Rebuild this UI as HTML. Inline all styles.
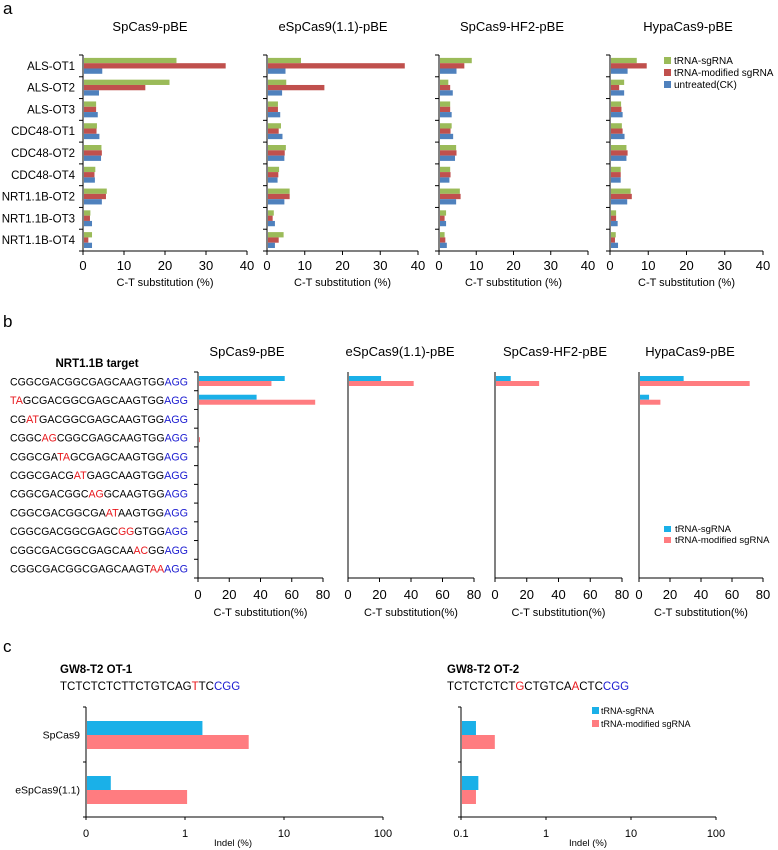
<!DOCTYPE html>
<html><head><meta charset="utf-8"><style>
html,body{margin:0;padding:0;background:#fff;}
svg{display:block;font-family:"Liberation Sans",Arial,sans-serif;}
</style></head><body>
<svg id="fig" width="778" height="850" viewBox="0 0 778 850">
<text x="3" y="14" font-size="17">a</text>
<text x="3" y="327" font-size="17">b</text>
<text x="3" y="652" font-size="17">c</text>
<g id="ga"></g>
<g id="gb"></g>
<g id="gc"></g>
</svg>
<script>
// ---------- Panel a data ----------
const aCategories = ["ALS-OT1","ALS-OT2","ALS-OT3","CDC48-OT1","CDC48-OT2","CDC48-OT4","NRT1.1B-OT2","NRT1.1B-OT3","NRT1.1B-OT4"];
const aTitles = ["SpCas9-pBE","eSpCas9(1.1)-pBE","SpCas9-HF2-pBE","HypaCas9-pBE"];
const aSeriesNames = ["tRNA-sgRNA","tRNA-modified sgRNA","untreated(CK)"];
const aTicks = [0,10,20,30,40];
const aGreen = [
 [22.8,21.1,3.2,3.4,4.5,3.0,5.8,1.8,2.2],
 [9.0,5.1,2.9,3.7,5.0,3.2,6.0,1.8,4.4],
 [8.8,2.5,3.0,3.4,4.6,3.0,5.6,1.9,1.5],
 [7.0,3.7,2.9,3.1,4.3,2.8,5.4,1.6,1.5]];
const aRed = [
 [34.8,15.2,3.2,3.3,4.6,2.8,5.6,1.7,1.3],
 [36.5,15.2,2.9,3.1,4.7,3.0,6.0,1.5,3.1],
 [6.8,3.0,3.0,3.1,4.7,3.1,5.8,1.5,1.7],
 [9.6,2.4,3.0,3.3,4.6,2.8,5.7,1.6,1.3]];
const aBlue = [
 [4.7,3.9,3.6,4.0,4.4,2.9,4.6,2.2,2.2],
 [4.9,4.0,3.5,4.1,4.6,2.8,4.6,2.1,2.1],
 [4.7,3.7,3.4,3.8,4.3,2.8,4.6,1.9,2.1],
 [4.6,3.7,3.3,3.8,4.3,2.8,4.5,2.0,2.1]];
// ---------- Panel b data ----------
const bTitles = ["SpCas9-pBE","eSpCas9(1.1)-pBE","SpCas9-HF2-pBE","HypaCas9-pBE"];
const bSeqs = [
 ["CGGCGACGGCGAGCAAGTGG","",""],
 ["","TA","GCGACGGCGAGCAAGTGG"],
 ["CG","AT","GACGGCGAGCAAGTGG"],
 ["CGGC","AG","CGGCGAGCAAGTGG"],
 ["CGGCGA","TA","GCGAGCAAGTGG"],
 ["CGGCGACG","AT","GAGCAAGTGG"],
 ["CGGCGACGGC","AG","GCAAGTGG"],
 ["CGGCGACGGCGA","AT","AAGTGG"],
 ["CGGCGACGGCGAGC","GG","GTGG"],
 ["CGGCGACGGCGAGCAA","AC","GG"],
 ["CGGCGACGGCGAGCAAGT","AA",""]];
const bTicks = [0,20,40,60,80];
const bBlue = [
 [55.5,37.5,0,0,0,0,0,0,0,0,0],
 [21,0,0,0,0,0,0,0,0,0,0],
 [9.9,0,0,0,0,0,0,0,0,0,0],
 [28.8,6.5,0,0,0,0,0,0,0,0,0]];
const bRed = [
 [47,75,0,1,0,0,0,0,0,0,0],
 [41.7,0,0,0,0,0,0,0,0,0,0],
 [27.8,0,0,0,0,0,0,0,0,0,0],
 [71.4,13.8,0,0,0,0,0,0,0,0,0]];
// ---------- Panel c data ----------
const cCategories = ["SpCas9","eSpCas9(1.1)"];
const cTickValues = [0.1,1,10,100];
const cTickLabels1 = ["0","1","10","100"];
const cTickLabels2 = ["0.1","1","10","100"];
const cBlue = [[1.5,0.178],[0.15,0.16]];
const cRed = [[4.4,1.05],[0.25,0.15]];

const NS="http://www.w3.org/2000/svg";
function mk(parent,tag,attrs,txt){const e=document.createElementNS(NS,tag);for(const k in attrs)e.setAttribute(k,attrs[k]);if(txt!==undefined)e.textContent=txt;parent.appendChild(e);return e;}

// ---------- Panel a ----------
const ga=document.getElementById('ga');
const aX0=[83,267,439,610], aX1=[247,418,588,763];
const aTop=55, aBot=251, aBand=(aBot-aTop)/aCategories.length;
const aTitleX=[150,333,512,688];
const aColors=["#9bbb59","#c0504d","#4f81bd"];
for(let p=0;p<4;p++){
  const sx=v=>aX0[p]+v/40*(aX1[p]-aX0[p]);
  let t=mk(ga,'text',{x:aTitleX[p],y:31,'font-size':13,'text-anchor':'middle'},aTitles[p]);
  
  
  let l=mk(ga,'line',{x1:aX0[p],y1:aTop,x2:aX0[p],y2:aBot,stroke:'#000','stroke-width':1});
  
  
  l=mk(ga,'line',{x1:aX0[p],y1:aBot,x2:aX1[p],y2:aBot,stroke:'#000','stroke-width':1});
  
  
  for(let i=0;i<=aCategories.length;i++){mk(ga,'line',{x1:aX0[p]-4,y1:aTop+i*aBand,x2:aX0[p],y2:aTop+i*aBand,stroke:'#000'});}
  aTicks.forEach(v=>{
    mk(ga,'line',{x1:sx(v),y1:aBot,x2:sx(v),y2:aBot+4,stroke:'#000'});
    let tl=mk(ga,'text',{x:sx(v),y:aBot+19,'font-size':13,'text-anchor':'middle'},String(v));
    
    
  });
  t=mk(ga,'text',{x:(aX0[p]+aX1[p])/2,y:286,'font-size':11,'text-anchor':'middle'},'C-T substitution (%)');
  
  
  const series=[aGreen[p],aRed[p],aBlue[p]];
  aCategories.forEach((c,i)=>{
    const y0=aTop+i*aBand+(aBand-16)/2;
    series.forEach((s,k)=>{
      const r=mk(ga,'rect',{x:aX0[p]+1,y:y0+k*5.3,width:Math.max(0,sx(s[i])-aX0[p]-1),height:5.3,fill:aColors[k]});
      
      
    });
  });
}
aCategories.forEach((c,i)=>{
  const t=mk(ga,'text',{x:75,y:aTop+(i+0.5)*aBand+4,'font-size':11.5,'text-anchor':'end'},c);
  
  
});
aSeriesNames.forEach((n,k)=>{
  mk(ga,'rect',{x:664,y:57+k*12,width:7,height:7,fill:aColors[k]});
  const t=mk(ga,'text',{x:674,y:64+k*12,'font-size':10},n);
  
  
});

// ---------- Panel b ----------
const gb=document.getElementById('gb');
const bX0=[198,348,495,639], bX1=[323,474,622,763];
const bTop=372,bBot=578,bBand=(bBot-bTop)/bSeqs.length;
const bTitleX=[247,400,555,690];
const bColors=["#1ab0e8","#ff7c80"];
let tt=mk(gb,'text',{x:97,y:367,'font-size':11.5,'font-weight':'bold','text-anchor':'middle'},'NRT1.1B target');


bSeqs.forEach((s,i)=>{
  const t=mk(gb,'text',{x:10,y:bTop+(i+0.5)*bBand+4,'font-size':11,textLength:178,lengthAdjust:'spacingAndGlyphs'});
  
  
  mk(t,'tspan',{},s[0]);mk(t,'tspan',{fill:'#e8171c'},s[1]);mk(t,'tspan',{},s[2]);mk(t,'tspan',{fill:'#1a1ad0'},'AGG');
});
for(let p=0;p<4;p++){
  const sx=v=>bX0[p]+v/80*(bX1[p]-bX0[p]);
  let t=mk(gb,'text',{x:bTitleX[p],y:356,'font-size':13,'text-anchor':'middle'},bTitles[p]);
  
  
  mk(gb,'line',{x1:bX0[p],y1:bTop,x2:bX0[p],y2:bBot,stroke:'#000'});
  mk(gb,'line',{x1:bX0[p],y1:bBot,x2:bX1[p],y2:bBot,stroke:'#000'});
  if(p===0){for(let i=0;i<=bSeqs.length;i++)mk(gb,'line',{x1:bX0[p]-4,y1:bTop+i*bBand,x2:bX0[p],y2:bTop+i*bBand,stroke:'#000'});}
  bTicks.forEach(v=>{
    mk(gb,'line',{x1:sx(v),y1:bBot,x2:sx(v),y2:bBot+4,stroke:'#000'});
    const tl=mk(gb,'text',{x:sx(v),y:bBot+21,'font-size':13,'text-anchor':'middle'},String(v));
    
    
  });
  t=mk(gb,'text',{x:(bX0[p]+bX1[p])/2,y:616,'font-size':11,'text-anchor':'middle'},'C-T substitution(%)');
  
  
  [bBlue[p],bRed[p]].forEach((s,k)=>{
    s.forEach((v,i)=>{
      if(v<=0)return;
      const r=mk(gb,'rect',{x:bX0[p]+1,y:bTop+i*bBand+4+k*5,width:Math.max(1,sx(v)-bX0[p]-1),height:5,fill:bColors[k]});
      
      
    });
  });
}
["tRNA-sgRNA","tRNA-modified sgRNA"].forEach((n,k)=>{
  mk(gb,'rect',{x:664,y:526+k*11,width:7,height:6,fill:bColors[k]});
  const t=mk(gb,'text',{x:675,y:532+k*11,'font-size':9.5},n);
  
  
});

// ---------- Panel c ----------
const gc=document.getElementById('gc');
const cX0=[86,461], cDec=[99,85];
const cTop=707,cBot=817,cBand=(cBot-cTop)/2;
const cTitleX=[60,447];
const cSeqs=[["TCTCTCTCTTCTGTCAG","T","","","TC"],["TCTCTCTCT","G","CTGTCA","A","CTC"]];
["GW8-T2 OT-1","GW8-T2  OT-2"].forEach((n,p)=>{
  let t=mk(gc,'text',{x:cTitleX[p],y:673,'font-size':11.5,'font-weight':'bold'},n);
  
  
  t=mk(gc,'text',{x:cTitleX[p],y:690,'font-size':11.5});
  
  
  const s=cSeqs[p];
  mk(t,'tspan',{},s[0]);mk(t,'tspan',{fill:'#e8171c'},s[1]);mk(t,'tspan',{},s[2]);mk(t,'tspan',{fill:'#e8171c'},s[3]);mk(t,'tspan',{},s[4]);mk(t,'tspan',{fill:'#1a1ad0'},'CGG');
});
for(let p=0;p<2;p++){
  const sx=v=>cX0[p]+(Math.log10(v)+1)*cDec[p];
  mk(gc,'line',{x1:cX0[p],y1:cTop,x2:cX0[p],y2:cBot,stroke:'#000'});
  mk(gc,'line',{x1:cX0[p],y1:cBot,x2:sx(100),y2:cBot,stroke:'#000'});
  for(let i=0;i<=2;i++)mk(gc,'line',{x1:cX0[p]-3,y1:cTop+i*cBand,x2:cX0[p],y2:cTop+i*cBand,stroke:'#000'});
  const labs=p===0?cTickLabels1:cTickLabels2;
  cTickValues.forEach((v,j)=>{
    mk(gc,'line',{x1:sx(v),y1:cBot,x2:sx(v),y2:cBot+3,stroke:'#000'});
    const tl=mk(gc,'text',{x:sx(v),y:cBot+20,'font-size':11,'text-anchor':'middle'},labs[j]);
    
    
  });
  const t=mk(gc,'text',{x:p===0?233:588,y:846,'font-size':9.5,'text-anchor':'middle'},'Indel (%)');
  
  
  cCategories.forEach((c,i)=>{
    [cBlue[p][i],cRed[p][i]].forEach((v,k)=>{
      const r=mk(gc,'rect',{x:cX0[p]+1,y:cTop+i*cBand+14+k*14,width:Math.max(0,sx(v)-cX0[p]-1),height:14,fill:bColors[k]});
      
      
    });
  });
}
cCategories.forEach((c,i)=>{
  const t=mk(gc,'text',{x:80,y:cTop+(i+0.5)*cBand+4,'font-size':10.5,'text-anchor':'end'},c);
  
  
});
["tRNA-sgRNA","tRNA-modified sgRNA"].forEach((n,k)=>{
  mk(gc,'rect',{x:592,y:707+k*13,width:7,height:7,fill:bColors[k]});
  const t=mk(gc,'text',{x:601,y:714+k*13,'font-size':9},n);
  
  
});
</script>
</body></html>
